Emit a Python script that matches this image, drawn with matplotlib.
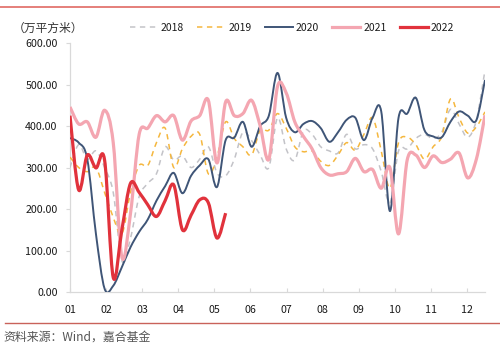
import numpy as np
import matplotlib
matplotlib.use("Agg")
import matplotlib.pyplot as plt
from matplotlib.path import Path
from matplotlib.patches import PathPatch
from matplotlib.lines import Line2D

plt.rcParams['font.family'] = ['Noto Sans CJK SC', 'DejaVu Sans']

# ---------------- data (weekly values, 万平方米) ----------------
month_labels = ["01", "02", "03", "04", "05", "06", "07", "08", "09", "10", "11", "12"]
years = ["2018", "2019", "2020", "2021", "2022"]

s2018 = [300, 355, 320, 340, 300, 240, 75, 130, 230, 262, 285, 350, 318, 328, 300, 320,
         350, 287, 280, 320, 385, 365, 330, 300, 420, 345, 318, 388, 380, 350, 340, 335,
         380, 345, 355, 345, 290, 215, 340, 345, 370, 380, 370, 385, 440, 405, 373, 414, 535]
s2019 = [325, 300, 290, 300, 240, 180, 140, 240, 305, 305, 360, 395, 300, 345, 375, 380,
         285, 325, 410, 370, 350, 330, 390, 390, 430, 395, 350, 338, 340, 315, 305, 330,
         360, 342, 380, 420, 340, 250, 360, 373, 355, 320, 350, 375, 465, 420, 383, 398, 434]
s2020 = [371, 360, 320, 140, 8, 15, 60, 108, 145, 175, 220, 255, 287, 238, 280, 305,
         320, 253, 366, 372, 410, 350, 400, 425, 528, 420, 385, 405, 412, 395, 362, 385,
         415, 420, 366, 420, 435, 195, 420, 430, 468, 390, 375, 373, 410, 435, 425, 414, 511]
s2021 = [446, 405, 410, 373, 438, 360, 84, 190, 380, 395, 425, 410, 425, 366, 412, 425,
         462, 311, 458, 425, 430, 462, 400, 320, 495, 480, 410, 375, 345, 300, 282, 285,
         290, 322, 290, 295, 250, 300, 140, 318, 330, 300, 328, 312, 320, 335, 275, 320, 426]
s2022 = [425, 246, 330, 299, 318, 35, 150, 262, 240, 210, 182, 220, 258, 150, 185, 222,
         215, 130, 190]

series = [s2018, s2019, s2020, s2021, s2022]

# ---------------- styles ----------------
colors = ["#C3C3C8", "#F5B73E", "#3F5577", "#F4A6B1", "#E1323C"]
widths = [1.1, 1.1, 1.4, 2.3, 2.3]
dashed = [True, True, False, False, False]

fig = plt.figure(figsize=(5.0, 3.47), dpi=100)
ax = fig.add_axes([0.14, 0.1585, 0.83, 0.7175])

step = 11.5 / 48.0


def smooth_path(x, y):
    """Excel-style smoothed polyline through the data points (cubic Bezier)."""
    pts = np.column_stack([x, y]).astype(float)
    n = len(pts)
    verts = [pts[0]]
    codes = [Path.MOVETO]
    for i in range(n - 1):
        p0 = pts[i - 1] if i > 0 else pts[i]
        p1 = pts[i]
        p2 = pts[i + 1]
        p3 = pts[i + 2] if i + 2 < n else pts[i + 1]
        c1 = p1 + (p2 - p0) / 6.0
        c2 = p2 - (p3 - p1) / 6.0
        verts += [c1, c2, p2]
        codes += [Path.CURVE4] * 3
    return Path(verts, codes)


handles = []
for vals, c, lw, dsh, lab in zip(series, colors, widths, dashed, years):
    x = 1 + np.arange(len(vals)) * step
    path = smooth_path(x, vals)
    patch = PathPatch(path, fill=False, edgecolor=c, lw=lw,
                      linestyle=(0, (3.5, 3.0)) if dsh else '-',
                      capstyle='butt', joinstyle='round', zorder=3)
    ax.add_patch(patch)
    handles.append(Line2D([], [], color=c, lw=lw,
                          linestyle=(0, (3.5, 3.0)) if dsh else '-'))

ax.set_xlim(1, 12.5)
ax.set_ylim(0, 600)
ax.set_xticks(np.arange(1, 13))
ax.set_xticklabels(month_labels)
ax.set_yticks(np.arange(0, 601, 100))
ax.set_yticklabels([f"{v:.2f}" for v in np.arange(0, 601, 100)])

for side in ["top", "right"]:
    ax.spines[side].set_visible(False)
for side in ["left", "bottom"]:
    ax.spines[side].set_color("#D9D9D9")
    ax.spines[side].set_linewidth(0.9)

ax.tick_params(axis='y', direction='out', length=3, color="#D9D9D9",
               labelsize=7.7, labelcolor="#1a1a1a", pad=6)
ax.tick_params(axis='x', direction='in', length=3, color="#D9D9D9",
               labelsize=7.7, labelcolor="#1a1a1a", pad=9)

# unit label
fig.text(0.096, 0.919, "（万平方米）", ha='center', va='center',
         fontsize=8.5, color="#333333")

# legend
fig.legend(handles, years, loc='center', bbox_to_anchor=(0.584, 0.919),
           ncol=5, frameon=False, fontsize=7.5, handlelength=2.7,
           handletextpad=0.3, columnspacing=1.25, labelcolor="#1a1a1a")

# decorative rules
fig.add_artist(Line2D([0, 1], [1 - 7 / 347, 1 - 7 / 347], transform=fig.transFigure,
                      color="#E06A63", lw=1.2))
fig.add_artist(Line2D([0.01, 1], [1 - 323 / 347, 1 - 323 / 347], transform=fig.transFigure,
                      color="#C9625A", lw=1.0))

# source
fig.text(0.006, 1 - 337 / 347, "资料来源：Wind，嘉合基金", ha='left', va='center',
         fontsize=8.6, color="#555555")

fig.savefig("out.png", dpi=100)
